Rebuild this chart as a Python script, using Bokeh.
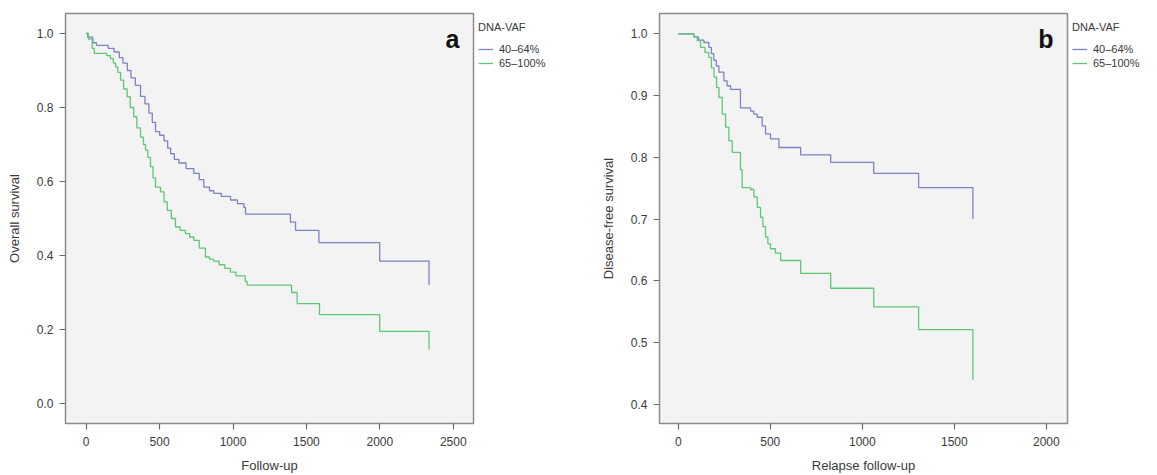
from bokeh.plotting import figure
from bokeh.layouts import row
from bokeh.models import Range1d, FixedTicker, Legend, LegendItem, Label, NumeralTickFormatter
from bokeh.embed import file_html
from bokeh.resources import INLINE

# Overall survival (Kaplan-Meier), days vs. survival probability
os_days_low = [0, 10, 45, 70, 150, 190, 225, 250, 280, 305, 335, 370, 400, 427, 450, 472,
               500, 530, 555, 575, 600, 631, 680, 733, 770, 801, 840, 869, 920, 983, 1030,
               1074, 1085, 1391, 1426, 1585, 1999, 2335]
os_surv_low = [1.0, 0.99, 0.975, 0.968, 0.96, 0.95, 0.935, 0.92, 0.90, 0.88, 0.86, 0.83,
               0.81, 0.785, 0.76, 0.735, 0.725, 0.71, 0.69, 0.675, 0.66, 0.65, 0.635, 0.622,
               0.605, 0.585, 0.575, 0.568, 0.56, 0.55, 0.54, 0.53, 0.512, 0.49, 0.468,
               0.435, 0.385, 0.32]

os_days_high = [0, 15, 41, 55, 140, 165, 185, 200, 215, 234, 255, 279, 300, 324, 345, 370,
                390, 404, 420, 438, 455, 472, 506, 530, 552, 580, 608, 640, 676, 705, 733,
                770, 812, 840, 868, 906, 944, 982, 1020, 1083, 1096, 1399, 1437, 1589,
                1999, 2335]
os_surv_high = [1.0, 0.985, 0.96, 0.946, 0.94, 0.932, 0.92, 0.91, 0.895, 0.874, 0.85, 0.829,
                0.80, 0.775, 0.745, 0.72, 0.70, 0.685, 0.665, 0.64, 0.61, 0.585, 0.572,
                0.545, 0.522, 0.50, 0.477, 0.468, 0.459, 0.45, 0.441, 0.42, 0.396, 0.39,
                0.385, 0.375, 0.365, 0.355, 0.345, 0.33, 0.32, 0.30, 0.27, 0.24, 0.195,
                0.145]

# Disease-free survival, relapse follow-up days
dfs_days_low = [0, 85, 110, 139, 166, 180, 193, 207, 221, 248, 265, 284, 338, 393, 410, 429,
                456, 474, 501, 547, 665, 828, 1062, 1306, 1601]
dfs_surv_low = [1.0, 0.995, 0.99, 0.986, 0.978, 0.968, 0.957, 0.948, 0.938, 0.924, 0.916,
                0.91, 0.88, 0.875, 0.87, 0.865, 0.851, 0.838, 0.83, 0.816, 0.804, 0.792,
                0.774, 0.751, 0.70]

dfs_days_high = [0, 85, 103, 121, 145, 166, 180, 194, 208, 221, 239, 257, 275, 293, 338, 347,
                 393, 411, 429, 447, 460, 474, 487, 501, 528, 556, 665, 828, 1062, 1306, 1601]
dfs_surv_high = [1.0, 0.995, 0.989, 0.978, 0.97, 0.962, 0.945, 0.93, 0.913, 0.897, 0.87,
                 0.849, 0.827, 0.808, 0.78, 0.751, 0.748, 0.736, 0.719, 0.703, 0.688, 0.671,
                 0.66, 0.652, 0.645, 0.633, 0.612, 0.588, 0.558, 0.521, 0.44]

group_labels = ["40\u201364%", "65\u2013100%"]
legend_title = "DNA-VAF"

BLUE = "#7d83c4"
GREEN = "#5fc877"
FONT = "Liberation Sans"
TXT = "#3a3a3a"
FRAME_W = 408
FRAME_H = 410
HEIGHT = 475


def km_panel(border_left, x_rng, y_rng, x_ticks, y_ticks, x_label, y_label, tag, low, high):
    p = figure(frame_width=FRAME_W, frame_height=FRAME_H,
               x_range=Range1d(*x_rng), y_range=Range1d(*y_rng),
               output_backend="svg", toolbar_location=None,
               min_border_left=border_left, min_border_right=2,
               min_border_top=13, min_border_bottom=52)
    p.background_fill_color = "#f3f3f3"
    p.border_fill_color = "white"
    p.outline_line_color = "#8c8c8c"
    p.outline_line_width = 1.5
    p.grid.visible = False

    p.step(low[0], low[1], mode="after", line_color=BLUE, line_width=1.3)
    p.step(high[0], high[1], mode="after", line_color=GREEN, line_width=1.3)

    for ax in (p.xaxis[0], p.yaxis[0]):
        ax.axis_line_color = None
        ax.major_tick_line_color = "#6a6a6a"
        ax.major_tick_line_width = 1.2
        ax.major_tick_out = 6
        ax.major_tick_in = 0
        ax.minor_tick_line_color = None
        ax.major_label_text_font = FONT
        ax.major_label_text_font_size = "12px"
        ax.major_label_text_color = TXT
        ax.axis_label_text_font = FONT
        ax.axis_label_text_font_size = "13px"
        ax.axis_label_text_font_style = "normal"
        ax.axis_label_text_color = TXT

    p.xaxis.ticker = FixedTicker(ticks=x_ticks)
    p.yaxis.ticker = FixedTicker(ticks=y_ticks)
    p.yaxis.formatter = NumeralTickFormatter(format="0.0")
    p.xaxis.axis_label = x_label
    p.yaxis.axis_label = y_label
    p.xaxis.major_label_standoff = 7
    p.xaxis.axis_label_standoff = 9
    p.yaxis.major_label_standoff = 6
    p.yaxis.axis_label_standoff = 12

    p.add_layout(Label(x=FRAME_W - 14, y=FRAME_H - 25, x_units="screen", y_units="screen",
                       text=tag, text_font=FONT, text_font_size="25px",
                       text_font_style="bold", text_color="#111111",
                       text_align="right", text_baseline="middle"))
    return p


def legend_strip(width, low, high):
    # narrow blank figure that only carries the group legend beside a panel;
    # its ranges sit away from the curves so only the legend keys are drawn
    q = figure(width=width, height=HEIGHT, x_range=Range1d(0, 1), y_range=Range1d(-3, -2),
               x_axis_type=None, y_axis_type=None, output_backend="svg",
               toolbar_location=None, min_border=0)
    q.outline_line_color = None
    q.background_fill_color = "white"
    q.border_fill_color = "white"
    q.grid.visible = False
    r_low = q.step(low[0], low[1], mode="after", line_color=BLUE, line_width=1.3)
    r_high = q.step(high[0], high[1], mode="after", line_color=GREEN, line_width=1.3)
    legend = Legend(items=[LegendItem(label=group_labels[0], renderers=[r_low]),
                           LegendItem(label=group_labels[1], renderers=[r_high])],
                    title=legend_title, location=(3, 353),
                    margin=0, padding=5, spacing=0, glyph_width=15, glyph_height=14,
                    label_height=14, label_standoff=6, title_standoff=9,
                    label_text_font=FONT, label_text_font_size="11px",
                    label_text_color=TXT, title_text_font=FONT,
                    title_text_font_size="11px", title_text_font_style="normal",
                    title_text_color=TXT, border_line_color=None,
                    background_fill_color="white", background_fill_alpha=1.0)
    q.add_layout(legend, "center")
    return q


os_low = (os_days_low, os_surv_low)
os_high = (os_days_high, os_surv_high)
dfs_low = (dfs_days_low, dfs_surv_low)
dfs_high = (dfs_days_high, dfs_surv_high)

pa = km_panel(65, (-141, 2638), (-0.054, 1.054),
              [0, 500, 1000, 1500, 2000, 2500], [0.0, 0.2, 0.4, 0.6, 0.8, 1.0],
              "Follow-up", "Overall survival", "a", os_low, os_high)

pb = km_panel(79, (-102, 2115), (0.369, 1.033),
              [0, 500, 1000, 1500, 2000], [0.4, 0.5, 0.6, 0.7, 0.8, 0.9, 1.0],
              "Relapse follow-up", "Disease-free survival", "b", dfs_low, dfs_high)

layout = row(pa, legend_strip(105, os_low, os_high),
             pb, legend_strip(88, dfs_low, dfs_high), spacing=0)
open("out.html", "w").write(file_html(layout, INLINE))
